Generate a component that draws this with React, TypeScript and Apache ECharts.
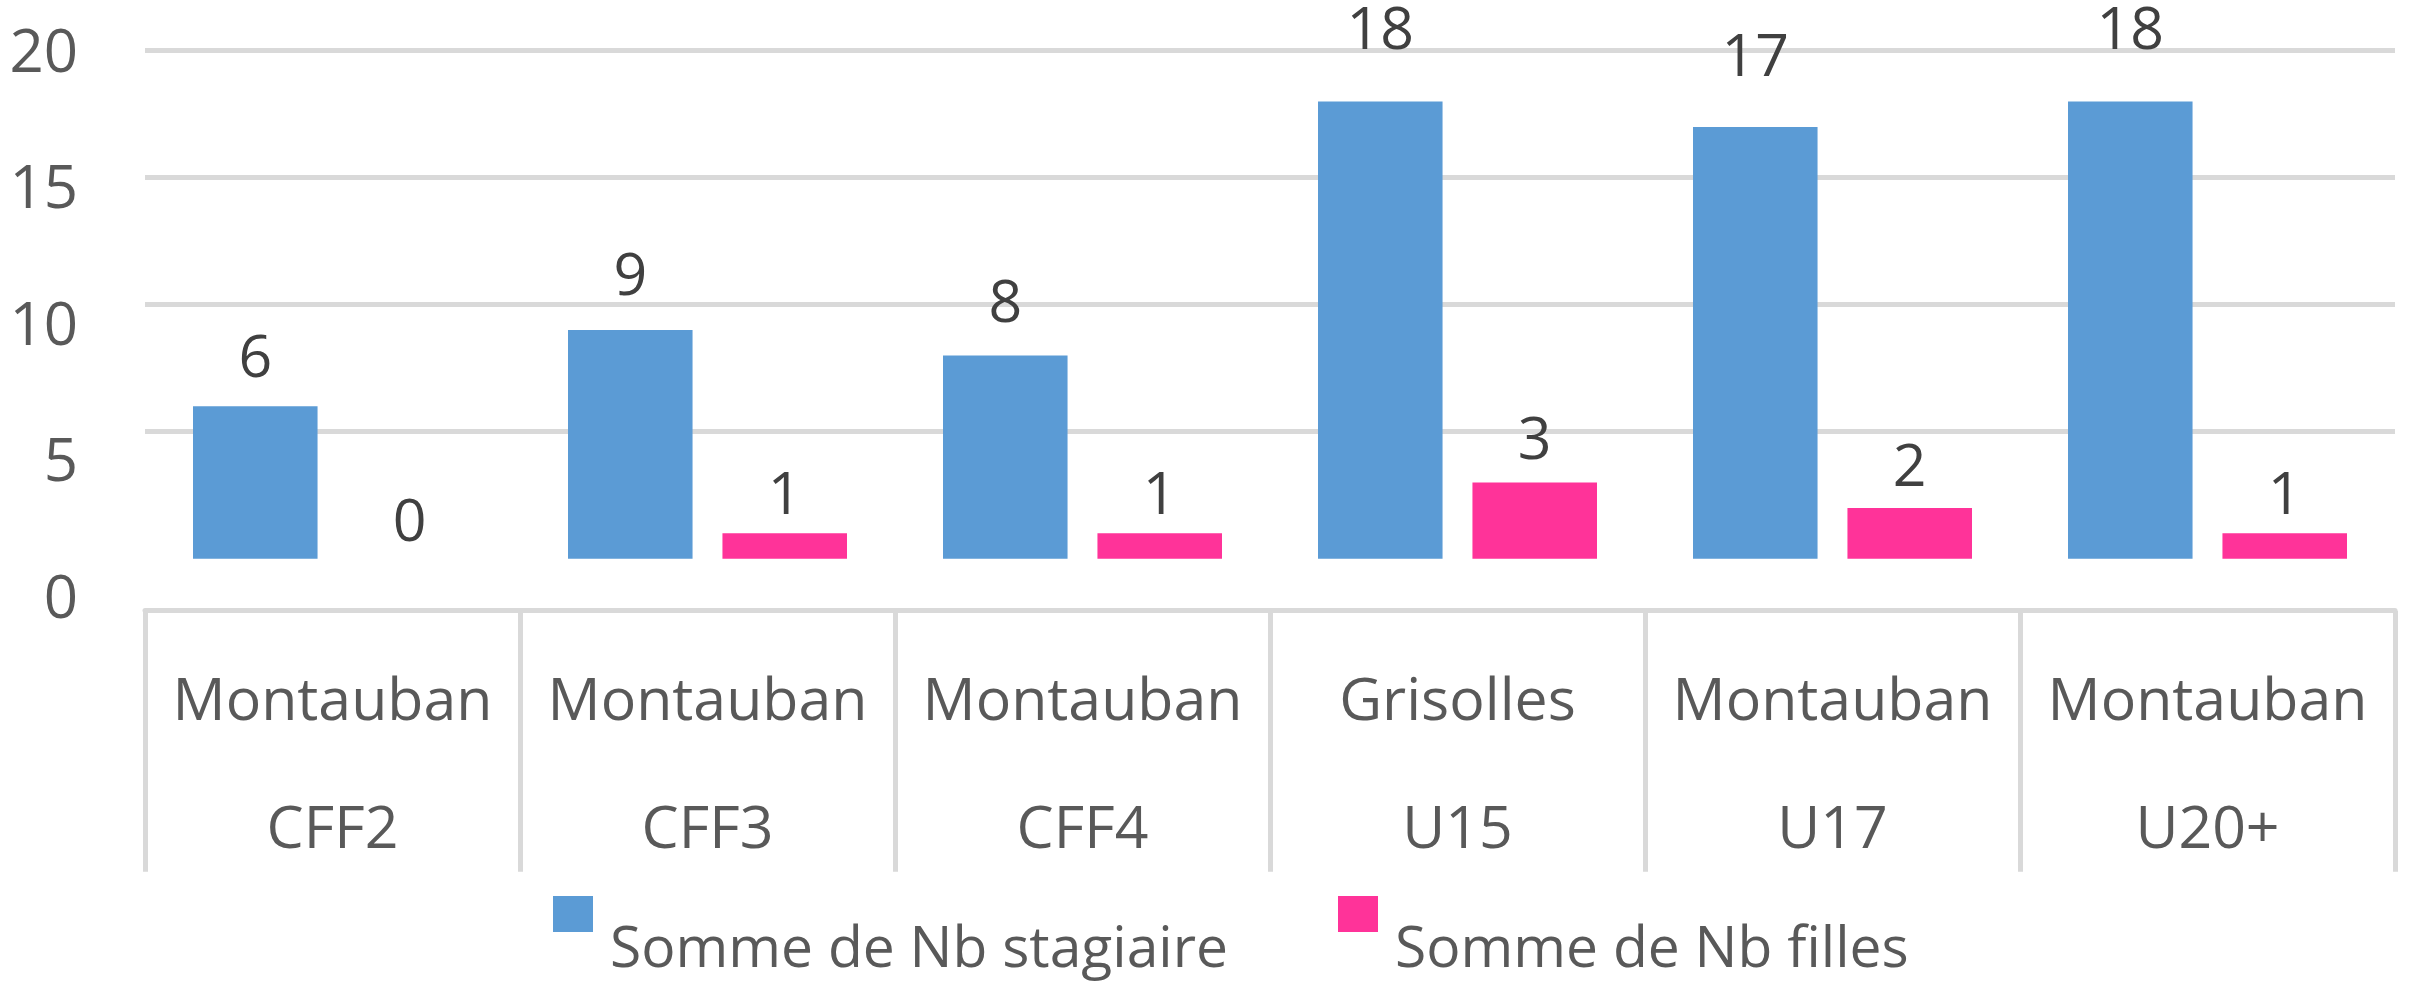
import React, { useEffect, useRef } from 'react';
import * as echarts from 'echarts';

const cities = ['Montauban', 'Montauban', 'Montauban', 'Grisolles', 'Montauban', 'Montauban'];
const codes = ['CFF2', 'CFF3', 'CFF4', 'U15', 'U17', 'U20+'];
const stagiaires = [6, 9, 8, 18, 17, 18];
const filles = [0, 1, 1, 3, 2, 1];
const seriesNames = ['Somme de Nb stagiaire', 'Somme de Nb filles'];
const seriesColors = ['#5B9BD5', '#FF3399'];
const yMin = 0;
const yMax = 20;
const yInterval = 5;

const FONT = "'Open Sans', sans-serif";

export default function App() {
  const ref = useRef<HTMLDivElement>(null);

  useEffect(() => {
    if (!ref.current) return;
    const chart = echarts.init(ref.current, undefined, { renderer: 'svg' });
    const categories = codes.map((c, i) => cities[i] + '\n' + c);
    const barLayout = { barGap: '24%', barCategoryGap: '25.6%' };
    const legendCommon = {
      orient: 'horizontal',
      padding: 0,
      itemWidth: 40,
      itemHeight: 36,
      icon: 'rect',
      selectedMode: false,
      formatter: (name: string) => '{g| }\n{t|' + name + '}',
      textStyle: {
        fontSize: 57,
        color: '#595959',
        fontFamily: FONT,
        padding: [0, 0, 0, 12],
        rich: {
          g: { fontSize: 10, lineHeight: 62 },
          t: { fontSize: 57, lineHeight: 44, color: '#595959', fontFamily: FONT },
        },
      },
    };
    const valueLabel = {
      show: true,
      position: 'top',
      distance: 55,
      fontSize: 59,
      lineHeight: 44,
      color: '#404040',
      fontFamily: FONT,
    };
    const option: any = {
      animation: false,
      backgroundColor: '#ffffff',
      grid: [
        { left: 145, right: 15, top: 50.7, height: 508, containLabel: false },
        { left: 145, right: 15, top: 48.5, height: 546.5, containLabel: false },
      ],
      xAxis: [
        {
          type: 'category',
          gridIndex: 0,
          data: categories,
          offset: 52,
          axisLine: { show: true, onZero: false, lineStyle: { color: '#d9d9d9', width: 5 } },
          axisTick: { show: true, length: 261, interval: 0, lineStyle: { color: '#d9d9d9', width: 5 } },
          axisLabel: {
            interval: 0,
            margin: 22,
            fontSize: 59,
            lineHeight: 128,
            color: '#595959',
            fontFamily: FONT,
          },
          splitLine: { show: false },
        },
        { type: 'category', gridIndex: 1, data: categories, show: false },
      ],
      yAxis: [
        {
          type: 'value',
          gridIndex: 0,
          min: yMin,
          max: yMax,
          interval: yInterval,
          axisLabel: { show: false },
          axisLine: { show: false },
          axisTick: { show: false },
          splitLine: { show: true, showMinLine: false, lineStyle: { color: '#d9d9d9', width: 5 } },
        },
        {
          type: 'value',
          gridIndex: 1,
          min: yMin,
          max: yMax,
          interval: yInterval,
          axisLabel: { show: true, fontSize: 60, color: '#595959', margin: 67, fontFamily: FONT },
          axisLine: { show: false },
          axisTick: { show: false },
          splitLine: { show: false },
        },
      ],
      legend: [
        { ...legendCommon, data: [seriesNames[0]], left: 553, top: 887 },
        { ...legendCommon, data: [seriesNames[1]], left: 1338, top: 887 },
      ],
      series: [
        {
          type: 'bar',
          name: seriesNames[0],
          xAxisIndex: 0,
          yAxisIndex: 0,
          data: stagiaires,
          itemStyle: { color: seriesColors[0] },
          ...barLayout,
        },
        {
          type: 'bar',
          name: seriesNames[1],
          xAxisIndex: 0,
          yAxisIndex: 0,
          data: filles,
          itemStyle: { color: seriesColors[1] },
          ...barLayout,
        },
        {
          type: 'bar',
          name: 'labels-stagiaire',
          xAxisIndex: 1,
          yAxisIndex: 1,
          data: stagiaires,
          silent: true,
          itemStyle: { color: 'rgba(0,0,0,0)' },
          label: valueLabel,
          ...barLayout,
        },
        {
          type: 'bar',
          name: 'labels-filles',
          xAxisIndex: 1,
          yAxisIndex: 1,
          data: filles,
          silent: true,
          itemStyle: { color: 'rgba(0,0,0,0)' },
          label: valueLabel,
          ...barLayout,
        },
      ],
    };
    chart.setOption(option);
    return () => chart.dispose();
  }, []);

  return (
    <div
      ref={ref}
      style={{ position: 'fixed', left: 0, top: 0, width: 2410, height: 986, background: '#ffffff' }}
    />
  );
}
